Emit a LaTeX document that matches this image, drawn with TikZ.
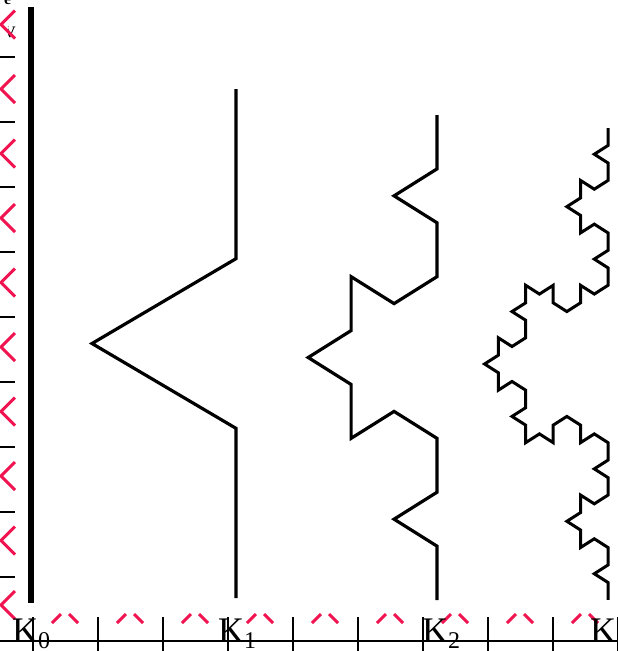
\documentclass[tikz,border=0pt]{standalone}
\usepackage{fontspec}
\setmainfont{Liberation Serif}
\definecolor{mk}{RGB}{240,20,80}
\begin{document}
\begin{tikzpicture}[x=1pt,y=-1pt,
  koch/.style={line width=3.2pt,line join=miter},
  tickline/.style={line width=1.3pt},
  redmk/.style={draw=mk,line width=3pt},
  lab/.style={anchor=base west,inner sep=0pt,font=\fontsize{36}{36}\selectfont},
  frag/.style={anchor=base west,inner sep=0pt,font=\bfseries\fontsize{16}{16}\selectfont}]
\useasboundingbox (0,0) rectangle (618,651);
% fragments of text at top left
\begin{scope}
  \clip (8,0) rectangle (17,40);
  \node[frag] (vfrag) at (4,37) {V};
\end{scope}
\node[frag] (efrag) at (4,4) {e};
% left ticks and red marks
\foreach \k in {0,...,8}
  \draw[tickline] (0,57+65*\k) -- (15,57+65*\k);
\foreach \k in {0,...,9}
  \draw[redmk] (15,24.5+64.5*\k-14) -- (1,24.5+64.5*\k) -- (15,24.5+64.5*\k+14);
% bottom axis
\draw[tickline] (0,641) -- (618,641);
\foreach \k in {0,...,9}
  \draw[tickline] (33+65*\k,617) -- (33+65*\k,651);
\foreach \k in {0,...,8} {
  \draw[redmk] (52+65*\k,623) -- (61+65*\k,614);
  \draw[redmk] (69+65*\k,614) -- (78+65*\k,623);
}
% K0
\coordinate (k0top) at (31,7);
\coordinate (k0bot) at (31,603);
\draw[line width=5.5pt] (k0top) -- (k0bot);
% Koch curves
\coordinate (k1top) at (236,89);
\coordinate (k2top) at (437,115);
\coordinate (k3top) at (608,128);
\def\s{169.67}\def\sx{0.98}
\draw[koch] (k1top) \foreach \i [evaluate={\i as \a using -90-60*equal(mod(\i,4),1)+60*equal(mod(\i,4),2)}] in {0,...,3} { -- ++({\sx*\s*cos(\a)},{-\s*sin(\a)}) };
\def\s{53.89}\def\sx{0.92}
\draw[koch] (k2top) \foreach \i [evaluate={\i as \a using -90-60*equal(mod(\i,4),1)+60*equal(mod(\i,4),2)-60*equal(mod(int(\i/4),4),1)+60*equal(mod(int(\i/4),4),2)}] in {0,...,15} { -- ++({\sx*\s*cos(\a)},{-\s*sin(\a)}) };
\def\s{17.48}\def\sx{0.906}
\draw[koch,line width=3pt] (k3top) \foreach \i [evaluate={\i as \a using -90-60*equal(mod(\i,4),1)+60*equal(mod(\i,4),2)-60*equal(mod(int(\i/4),4),1)+60*equal(mod(int(\i/4),4),2)-60*equal(mod(int(\i/16),4),1)+60*equal(mod(int(\i/16),4),2)}] in {0,...,63} { -- ++({\sx*\s*cos(\a)},{-\s*sin(\a)}) };
% labels
\node[lab] (l0) at (12,642) {K\raisebox{-6pt}{\fontsize{24}{24}\selectfont 0}};
\node[lab] (l1) at (218,642) {K\raisebox{-6pt}{\fontsize{24}{24}\selectfont 1}};
\node[lab] (l2) at (422,642) {K\raisebox{-6pt}{\fontsize{24}{24}\selectfont 2}};
\node[lab] (l3) at (590,642) {K\raisebox{-6pt}{\fontsize{24}{24}\selectfont 3}};
\end{tikzpicture}
\end{document}
